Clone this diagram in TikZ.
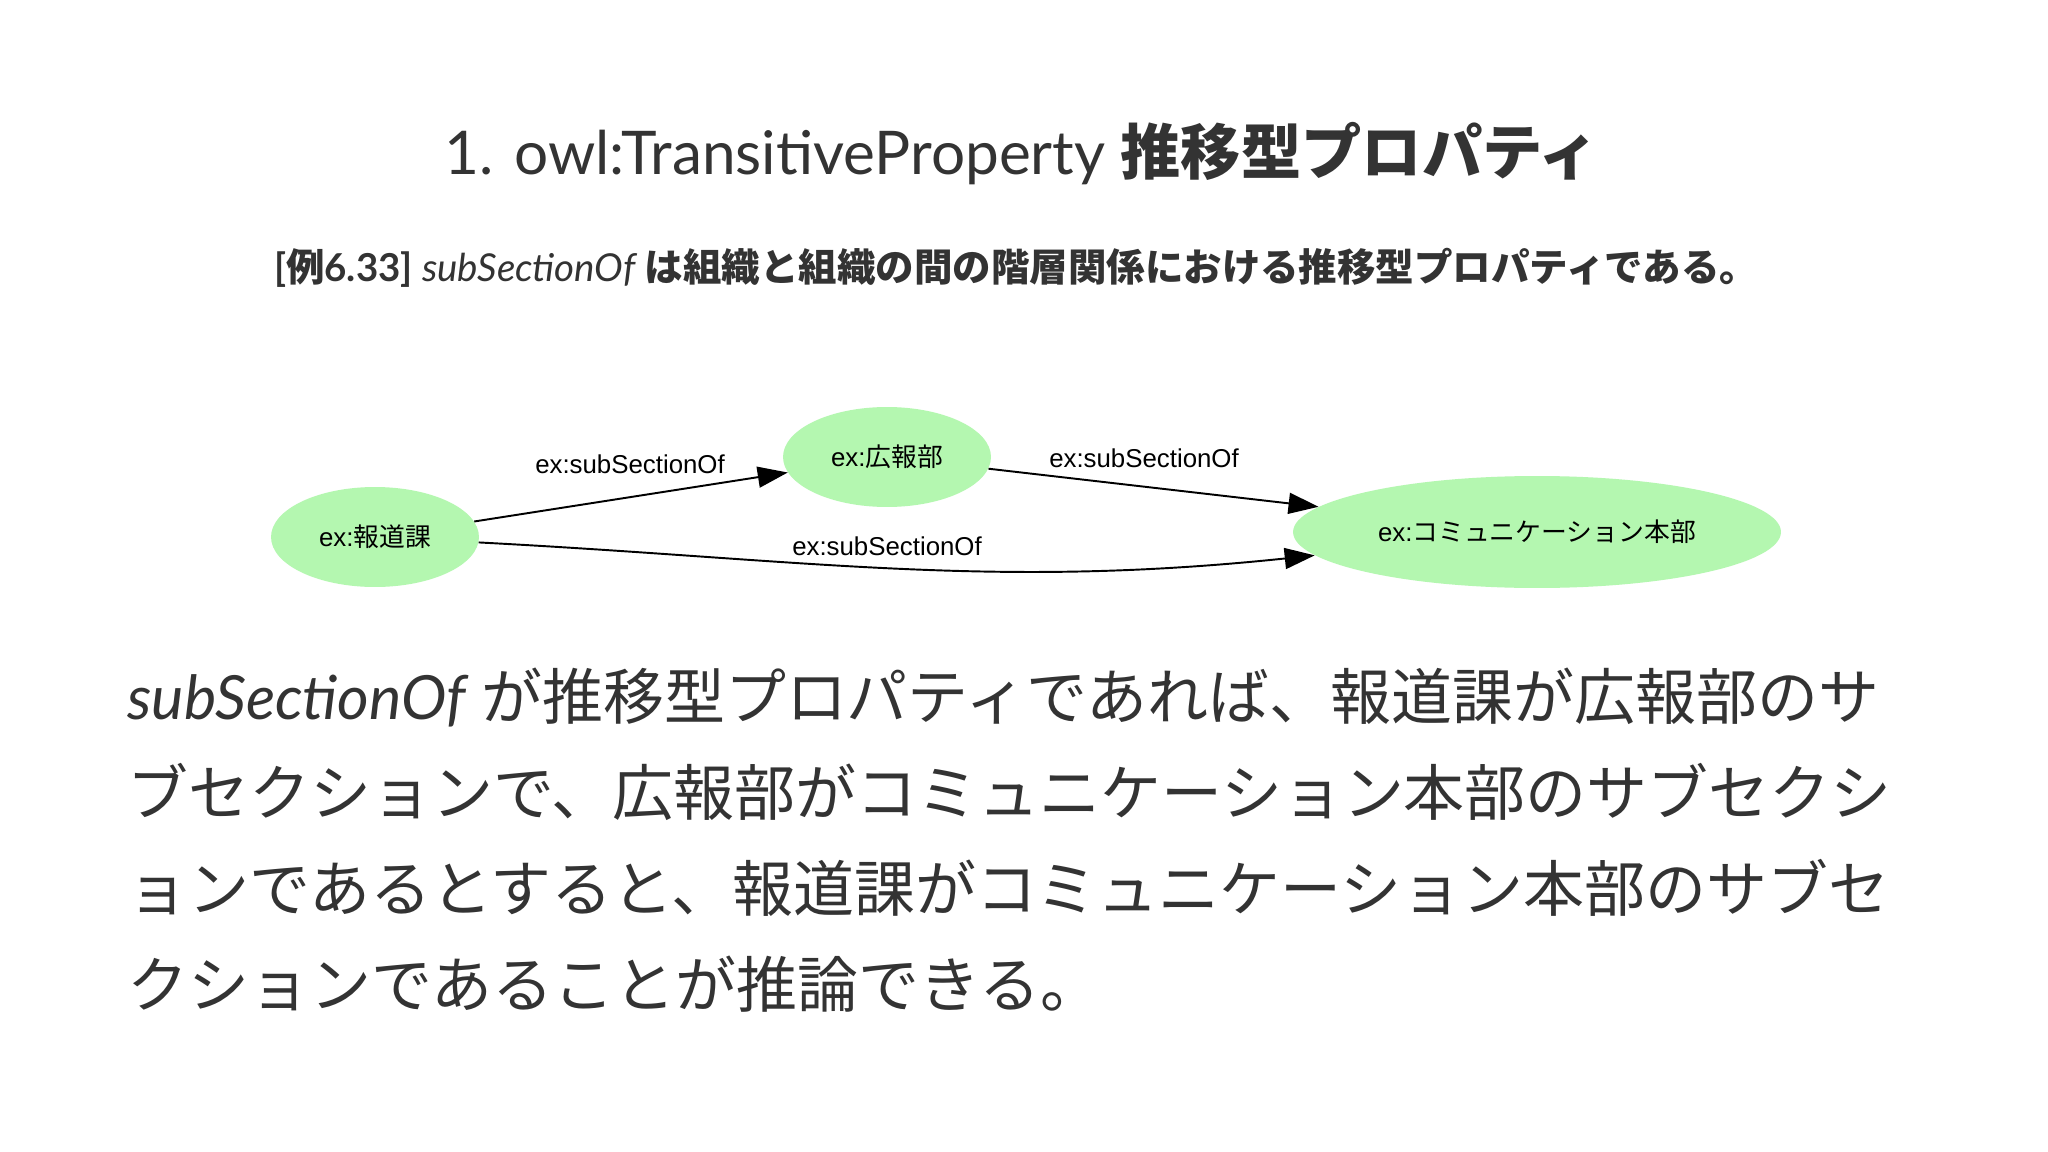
\documentclass[tikz,border=0pt]{standalone}
\usepackage{fontspec}
\setmainfont{Lato}
\newfontfamily\jp{Noto Sans CJK JP}
\newfontfamily\gv{Liberation Sans}
\usetikzlibrary{arrows.meta,shapes.geometric}
\definecolor{txt}{HTML}{333333}
\definecolor{nodegreen}{HTML}{B4F7B0}

\begin{document}
\begin{tikzpicture}[x=0.02cm,y=-0.02cm,
  title/.style={text=txt,font=\fontsize{34.3}{40}\selectfont},
  caption/.style={text=txt,font=\fontsize{21.9}{26}\selectfont},
  bodyline/.style={text=txt,anchor=base west,inner sep=0pt,font=\fontsize{34.7}{40}\selectfont},
  res/.style={ellipse,fill=nodegreen,inner sep=0pt,font=\gv\fontsize{14.7}{17}\selectfont},
  lbl/.style={font=\gv\fontsize{14.7}{17}\selectfont},
  edge/.style={line width=1.1pt,-{Triangle[length=0.6cm,width=0.42cm]}}]
  \fill[white] (0,0) rectangle (2048,1152);
  \useasboundingbox (0,0) rectangle (2048,1152);

  \node[title] (ttl) at (1022,154) {1. owl:TransitiveProperty {\jp\bfseries 推移型プロパティ}};
  \node[caption] (cap) at (1016,268) {\bfseries [{\jp 例}6.33] {\mdseries\itshape subSectionOf} {\jp は組織と組織の間の階層関係における推移型プロパティである。}};

  \node[res,minimum width=4.16cm,minimum height=2cm] (hd) at (375,537) {ex:{\jp 報道課}};
  \node[res,minimum width=4.16cm,minimum height=2cm] (kh) at (887,457) {ex:{\jp 広報部}};
  \node[res,minimum width=9.76cm,minimum height=2.24cm] (cm) at (1537,532) {ex:{\jp コミュニケーション本部}};

  \draw[edge] (hd) -- (kh);
  \draw[edge] (kh) -- (cm);
  \draw[edge] (hd) to[out=-3,in=186] (cm);
  \node[lbl] (e1) at (630,464) {ex:subSectionOf};
  \node[lbl] (e2) at (1144,458) {ex:subSectionOf};
  \node[lbl] (e3) at (887,546) {ex:subSectionOf};

  \foreach \t [count=\i] in {{{\itshape subSectionOf} {\jp が推移型プロパティであれば、報道課が広報部のサ}},
    {\jp ブセクションで、広報部がコミュニケーション本部のサブセクシ},
    {\jp ョンであるとすると、報道課がコミュニケーション本部のサブセ},
    {\jp クションであることが推論できる。}}
    \node[bodyline] (line\i) at (127,{719+96*(\i-1)}) {\t};
\end{tikzpicture}
\end{document}
